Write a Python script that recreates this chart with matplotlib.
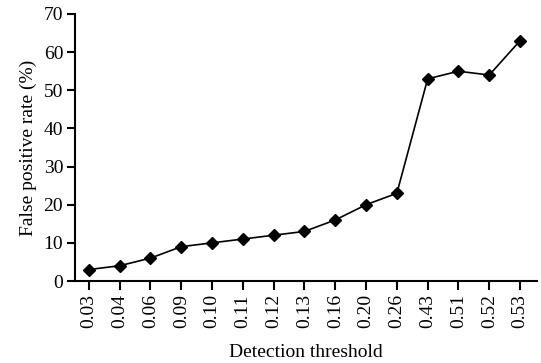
import matplotlib
matplotlib.use("Agg")
import matplotlib.pyplot as plt

thresholds = ["0.03", "0.04", "0.06", "0.09", "0.10", "0.11", "0.12", "0.13",
              "0.16", "0.20", "0.26", "0.43", "0.51", "0.52", "0.53"]
fp_rate = [3, 4, 6, 9, 10, 11, 12, 13, 16, 20, 23, 53, 55, 54, 63]

plt.rcParams['font.family'] = ['Liberation Serif', 'DejaVu Serif']
fig = plt.figure(figsize=(5.41, 3.63), dpi=100)
ax = fig.add_axes([75/541, 1-281/363, (537-75)/541, (281-14)/363])
x = list(range(len(thresholds)))
ax.plot(x, fp_rate, color='black', lw=1.2, marker='D', markersize=6.5)
ax.set_xlim(-0.45, len(thresholds) - 0.45)
ax.set_ylim(0, 70)
ax.set_yticks(range(0, 71, 10))
ax.set_xticks(x)
ax.set_xticklabels(thresholds, rotation=90)
for s in ['top', 'right']:
    ax.spines[s].set_visible(False)
for s in ['left', 'bottom']:
    ax.spines[s].set_linewidth(1.5)
ax.tick_params(axis='both', direction='out', width=1.5, labelsize=14, colors='black')
ax.tick_params(axis='y', length=5.5, pad=3)
ax.tick_params(axis='x', length=6.5, pad=3)
ax.set_ylabel("False positive rate (%)", fontsize=14, labelpad=5)
ax.set_xlabel("Detection threshold", fontsize=14, labelpad=11)
fig.savefig("out.png", dpi=100)
